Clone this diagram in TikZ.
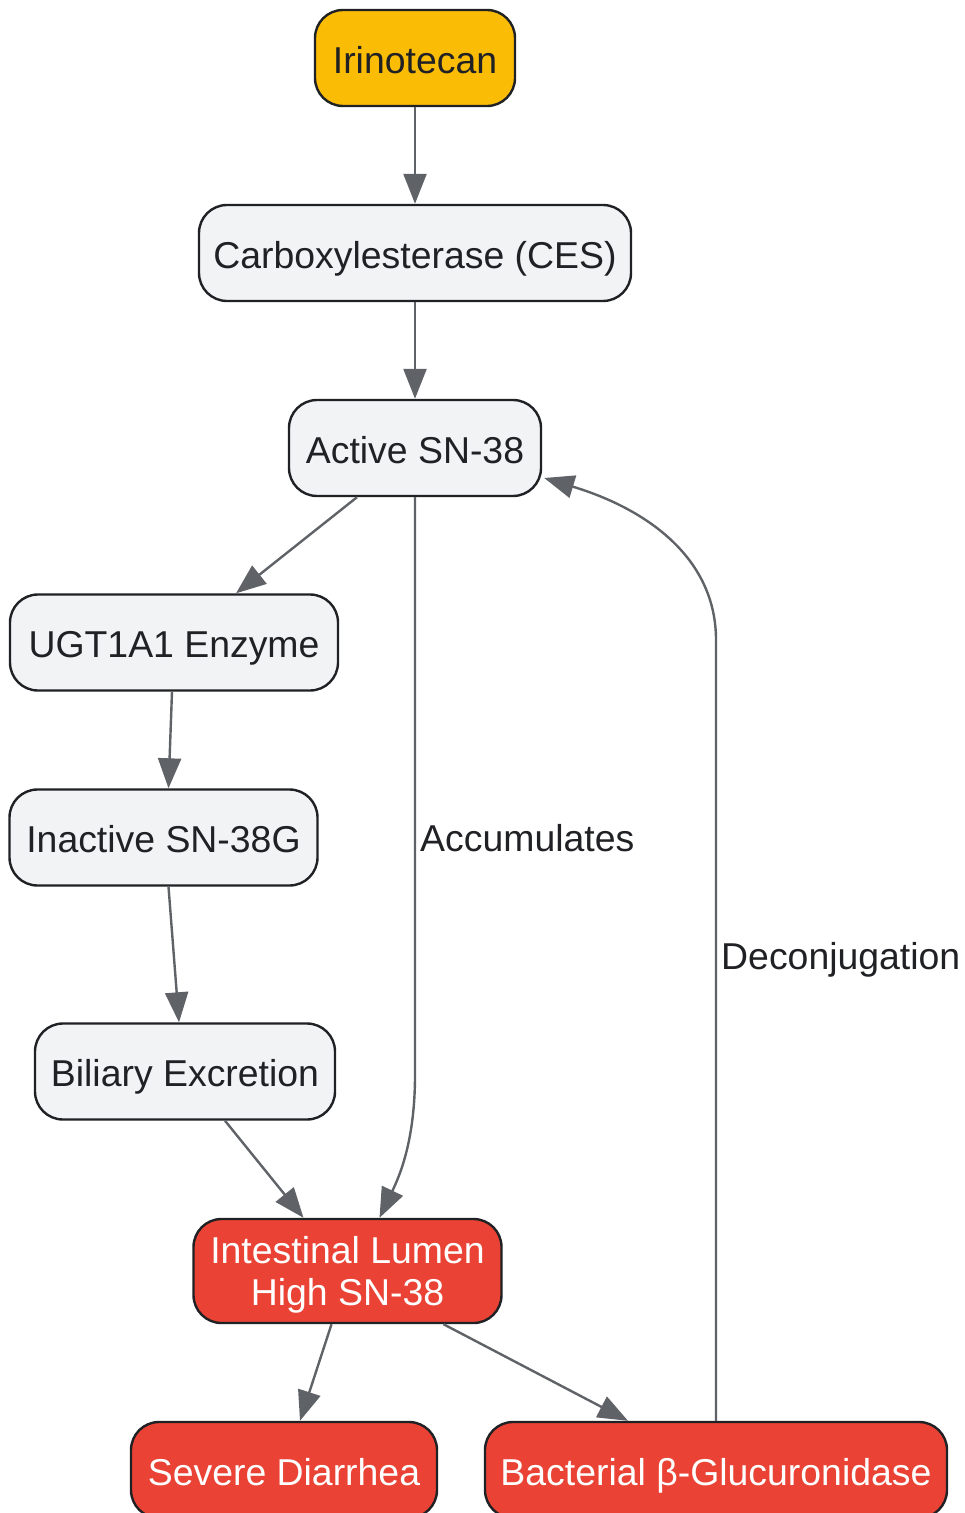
\documentclass[tikz,border=0pt]{standalone}
\usepackage{fontspec}
\setmainfont{Liberation Sans}
\usepackage{tikz}
\usetikzlibrary{arrows.meta, positioning}
\definecolor{drugyellow}{HTML}{FBBC05}
\definecolor{alertred}{HTML}{EA4335}
\definecolor{boxgray}{HTML}{F1F3F4}
\definecolor{edgegray}{HTML}{5F6368}
\definecolor{inkdark}{HTML}{202124}

\begin{document}
\begin{tikzpicture}[x=0.5pt, y=-0.5pt,
    step box/.style={draw=inkdark, line width=1.2pt, rounded corners=14pt, fill=boxgray,
        text=inkdark, minimum height=48pt, inner xsep=6pt, align=center,
        text height=16pt, text depth=0.8pt,
        font=\fontsize{18.7}{21}\selectfont},
    drug box/.style={step box, fill=drugyellow},
    red box/.style={step box, fill=alertred, text=white},
    flow/.style={draw=edgegray, line width=1.2pt, -{Triangle[length=15pt, width=11.5pt]}},
    lbl/.style={text=inkdark, font=\fontsize{18.7}{21}\selectfont, inner sep=2pt}]
    \useasboundingbox (0,0) rectangle (964,1513);

    % Main chain
    \node[drug box, minimum width=100pt] (iri) at (415,58) {Irinotecan};
    \node[step box, minimum width=216pt] (ces) at (415,253) {Carboxylesterase (CES)};
    \node[step box, minimum width=126pt] (act) at (415,448) {Active SN-38};

    % Detox branch
    \node[step box, minimum width=164pt] (ugt) at (174,642.5) {UGT1A1 Enzyme};
    \node[step box, minimum width=154pt] (sng) at (163.5,837.5) {Inactive SN-38G};
    \node[step box, minimum width=150pt] (bil) at (185,1071.5) {Biliary Excretion};

    % Gut
    \node[red box, minimum width=154pt, minimum height=52pt, text height={}, text depth=0pt]
        (lum) at (347.5,1271) {Intestinal Lumen\\High SN-38};
    \node[red box, minimum width=153pt] (dia) at (284,1470) {Severe Diarrhea};
    \node[red box, minimum width=231pt] (bac) at (716,1470) {Bacterial β-Glucuronidase};

    % Bends of the long edges
    \coordinate (accbend) at (415,1075);
    \coordinate (decbend) at (716,640);

    % Edges
    \draw[flow] (iri) -- (ces);
    \draw[flow] (ces) -- (act);
    \draw[flow] ([xshift=-29pt]act.south) -- ([xshift=31pt]ugt.north);
    \draw[flow] ([xshift=-1pt]ugt.south) -- ([xshift=2.5pt]sng.north);
    \draw[flow] ([xshift=2.5pt]sng.south) -- ([xshift=-3pt]bil.north);
    \draw[flow] ([xshift=20pt]bil.south) -- ([xshift=-22pt]lum.north);
    \draw[flow] ([xshift=-8pt]lum.south) -- ([xshift=8pt]dia.north);
    \draw[flow] ([xshift=48pt]lum.south) -- ([xshift=-44pt]bac.north);

    % Accumulates
    \draw[flow] (act.south) -- node[lbl, pos=0.59, right] {Accumulates} (accbend)
        .. controls (415,1140) and (400,1175) .. ([xshift=16pt]lum.north);

    % Deconjugation
    \draw[flow] (bac.north) -- node[lbl, pos=0.59, right] {Deconjugation} (decbend)
        .. controls (716,560) and (650,510) .. ([xshift=1pt, yshift=-15pt]act.east);
\end{tikzpicture}
\end{document}
